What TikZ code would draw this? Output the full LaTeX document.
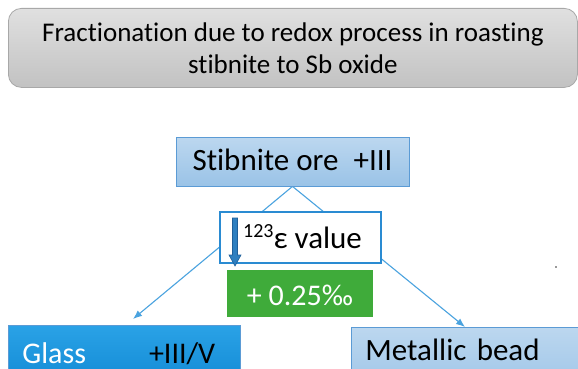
\documentclass[tikz,border=0pt]{standalone}
\usepackage{fontspec}
\setmainfont{Carlito}[Ligatures=NoCommon]
\usetikzlibrary{arrows.meta}
\pgfdeclarelayer{bg}
\pgfsetlayers{bg,main}
\definecolor{titletop}{HTML}{E0E0E0}
\definecolor{titlebot}{HTML}{C2C2C2}
\definecolor{titleedge}{HTML}{A8A8A8}
\definecolor{lbtop}{HTML}{BCD7EF}
\definecolor{lbbot}{HTML}{9AC3E7}
\definecolor{lbedge}{HTML}{5B9BD5}
\definecolor{linkcol}{HTML}{4AA3DF}
\definecolor{epsedge}{HTML}{2A8BD2}
\definecolor{gaingreen}{HTML}{3FAB3A}
\definecolor{glasstop}{HTML}{2AA2E6}
\definecolor{glassbot}{HTML}{0E86D2}
\definecolor{arrowfill}{HTML}{2E7FC0}
\definecolor{arrowedge}{HTML}{1F5F99}
\begin{document}
\begin{tikzpicture}[x=1pt,y=-1pt,
  titlebox/.style={draw=titleedge, line width=0.8pt, rounded corners=13pt,
    top color=titletop, bottom color=titlebot, align=center,
    font=\fontsize{27}{32}\selectfont},
  lightbox/.style={draw=lbedge, line width=0.8pt, top color=lbtop, bottom color=lbbot,
    font=\fontsize{31}{36}\selectfont, inner ysep=0pt},
  epsbox/.style={draw=epsedge, line width=1.8pt, fill=white,
    font=\fontsize{31}{36}\selectfont, inner ysep=0pt},
  gainbox/.style={fill=gaingreen, text=white,
    font=\fontsize{30}{36}\selectfont, inner ysep=0pt},
  glassbox/.style={draw=lbedge, line width=0.8pt, top color=glasstop, bottom color=glassbot,
    font=\fontsize{30}{36}\selectfont, inner ysep=0pt},
  link/.style={draw=linkcol, line width=1.1pt, -{Latex[length=9pt,width=7pt]}}
]
\clip (0,0) rectangle (578,369);

\node[titlebox, anchor=north west, minimum width=569pt, minimum height=79pt] (title)
  at (8,8) {Fractionation due to redox process in roasting\\stibnite to Sb oxide};

\node[lightbox, minimum width=233pt, minimum height=49pt, text height=20pt, text depth=3pt] (stib)
  at (292.5,161.5) {Stibnite ore\hspace{15pt}+III};

\node[epsbox, minimum width=161pt, minimum height=51pt, text height=24pt, text depth=3pt] (eps)
  at (300.5,237.5) {\hspace{4pt}{\fontsize{20}{23}\selectfont\raisebox{11pt}{123}}ε value};

\node[gainbox, minimum width=146pt, minimum height=47pt, text height=25pt, text depth=2pt] (gain)
  at (300,293.5) {+ 0.25‰};

\node[glassbox, anchor=north west, minimum width=232pt, minimum height=70pt,
  text width=204pt, inner xsep=14pt, align=left, text height=8pt, text depth=2pt] (glass)
  at (8,325) {\textcolor{white}{Glass}\hspace{63pt}+III/V};

\node[lightbox, anchor=north west, minimum width=250pt, minimum height=70pt,
  text width=222pt, inner xsep=14pt, align=left, text height=2pt, text depth=6pt] (bead)
  at (351,327) {Metallic bead};

\coordinate (glasstip) at (133,319);
\coordinate (beadtip) at (465,327);

\begin{pgfonlayer}{bg}
\fill[white] (0,0) rectangle (578,369);
\draw[link] (stib.south) -- (glasstip);
\draw[link] (stib.south) -- (beadtip);
\end{pgfonlayer}

% down arrow inside the epsilon box
\filldraw[fill=arrowfill, draw=arrowedge, line width=0.6pt]
  (232.5,218) -- (237.5,218) -- (237.5,255) -- (241,255) -- (235,266)
  -- (229,255) -- (232.5,255) -- cycle;

% stray dot
\fill[black!80] (556,267) circle (0.9pt);
\end{tikzpicture}
\end{document}
